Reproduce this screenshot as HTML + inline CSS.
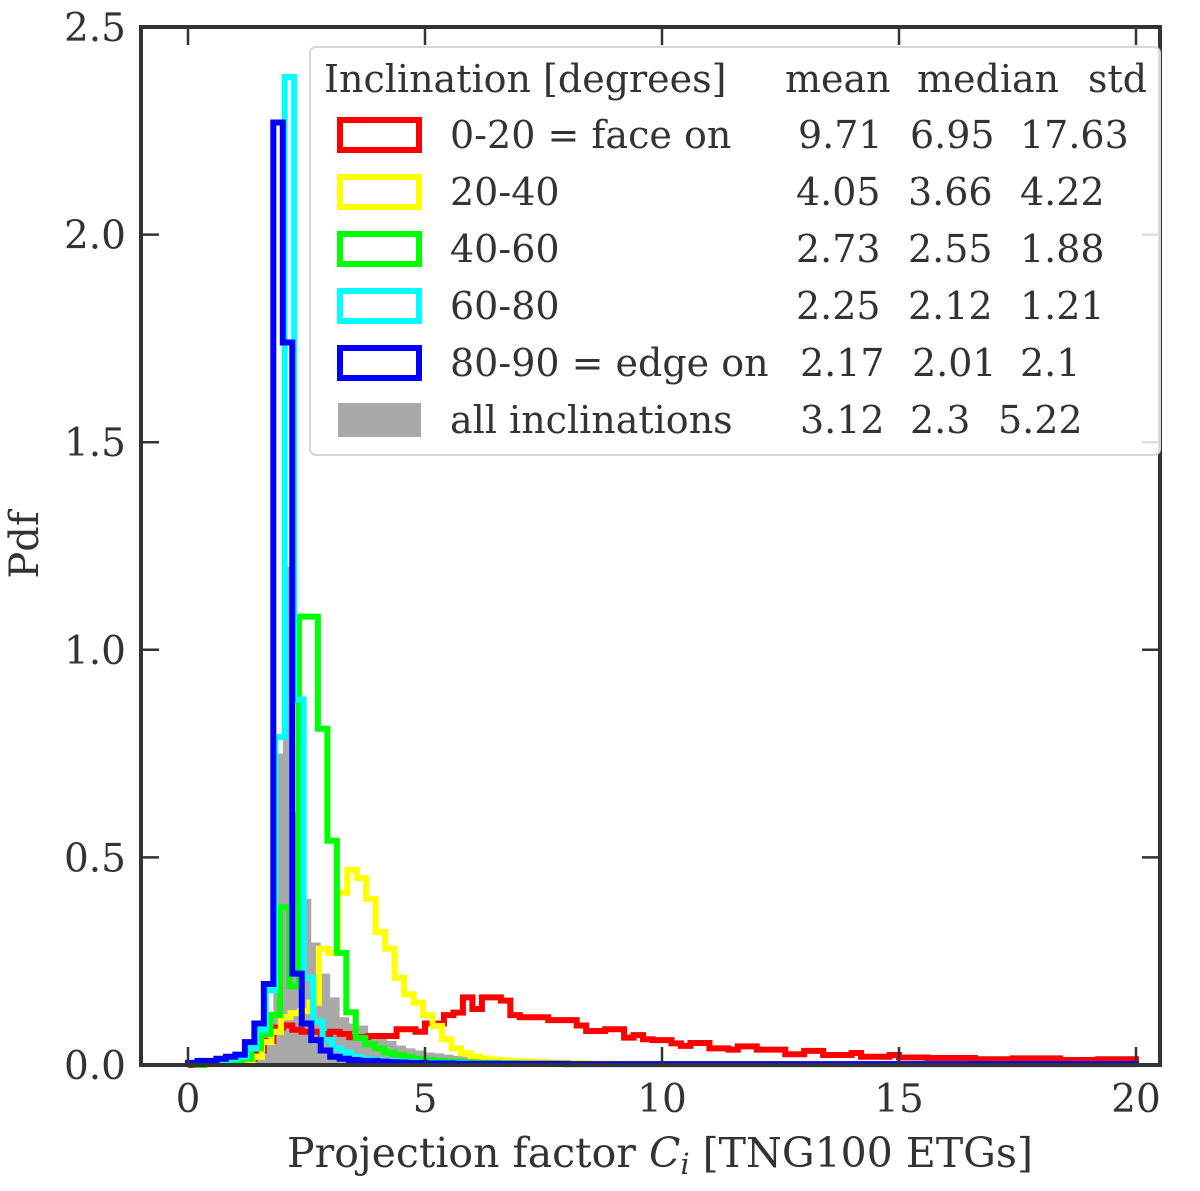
<!DOCTYPE html>
<html><head><meta charset="utf-8"><style>
html,body{margin:0;padding:0;background:#fff;}
svg text{font-family:"DejaVu Serif","Liberation Serif",serif;fill:#333;}
</style></head><body>
<svg id="chart" xmlns="http://www.w3.org/2000/svg" width="1200" height="1186" viewBox="0 0 1200 1186">
<rect width="1200" height="1186" fill="#fff"/>
<g id="marks"></g>
<g id="axes"></g>
<g id="legend"></g>
</svg>
<script>
const binWidth = 0.2;
const xTicks = [0,5,10,15,20];
const xTickLabels = ["0","5","10","15","20"];
const yTicks = [0,0.5,1,1.5,2,2.5];
const yTickLabels = ["0.0","0.5","1.0","1.5","2.0","2.5"];
const grayStart = 0;
const grayVals = [0,0,0,0,0,0.005,0.01,0.035,0.12,0.75,1.2,0.61,0.40,0.295,0.22,0.163,0.115,0.10,0.095,0.075,0.075,0.058,0.047,0.04,0.035,0.03,0.028,0.025,0.022,0.02,0.017,0.015,0.014,0.013,0.012,0.011,0.01,0.009,0.009,0.008,0.008,0.007,0.007,0.006,0.006,0.006,0.005,0.005,0.005,0.005,0.004];
const redStart = 0;
const redVals = [0,0.002,0.003,0.005,0.008,0.012,0.015,0.035,0.058,0.09,0.095,0.085,0.08,0.08,0.075,0.08,0.075,0.067,0.067,0.07,0.07,0.07,0.086,0.086,0.08,0.1,0.1,0.12,0.126,0.163,0.135,0.163,0.163,0.155,0.12,0.115,0.115,0.115,0.108,0.108,0.108,0.095,0.082,0.082,0.086,0.086,0.066,0.072,0.062,0.06,0.06,0.052,0.046,0.053,0.053,0.04,0.04,0.037,0.045,0.045,0.037,0.037,0.037,0.026,0.026,0.034,0.034,0.024,0.024,0.024,0.029,0.02,0.02,0.02,0.024,0.018,0.018,0.018,0.017,0.017,0.017,0.017,0.017,0.014,0.014,0.014,0.014,0.016,0.016,0.016,0.016,0.016,0.012,0.012,0.012,0.012,0.014,0.014,0.014,0.014];
const yellowStart = 0.16;
const yellowVals = [0,0.002,0.003,0.004,0.005,0.01,0.02,0.055,0.08,0.115,0.125,0.13,0.15,0.28,0.27,0.415,0.47,0.45,0.40,0.32,0.28,0.21,0.17,0.15,0.12,0.094,0.062,0.04,0.028,0.02,0.016,0.013,0.011,0.01,0.009,0.008,0.007,0.006,0.006,0.005,0.005,0.004,0.004,0.004,0.003,0.003,0.003,0.003,0.003,0.002];
const greenStart = 0.14;
const greenVals = [0,0.002,0.003,0.005,0.01,0.015,0.04,0.075,0.12,0.38,0.19,1.08,1.08,0.81,0.54,0.27,0.127,0.065,0.05,0.04,0.03,0.025,0.02,0.015,0.012,0.01,0.009,0.008,0.007,0.006,0.005,0.005,0.004,0.004,0.003,0.003,0.003,0.003,0.002,0.002];
const cyanStart = 0.04;
const cyanVals = [0.003,0.005,0.008,0.01,0.015,0.02,0.04,0.085,0.18,0.79,2.38,0.88,0.21,0.105,0.06,0.04,0.03,0.02,0.015,0.012,0.01,0.009,0.008,0.007,0.006,0.005,0.005,0.004,0.004,0.003,0.003,0.003,0.003,0.002,0.002];
const blueStart = 0;
const blueVals = [0.005,0.01,0.01,0.015,0.02,0.025,0.055,0.10,0.195,2.27,1.74,0.22,0.10,0.06,0.035,0.02,0.015,0.012,0.01,0.01,0.008,0.007,0.006,0.005,0.005,0.004,0.004,0.004,0.003,0.003,0.003,0.003,0.003,0.003,0.003,0.003,0.003,0.003,0.003,0.003,0.002,0.002,0.002,0.002,0.002,0.002,0.002,0.002,0.002,0.002,0.002,0.002,0.002,0.002,0.002,0.002,0.002,0.002,0.002,0.002,0.002,0.002,0.002,0.002,0.002,0.002,0.002,0.002,0.002,0.002,0.002,0.002,0.002,0.002,0.002,0.002,0.002,0.002,0.002,0.002,0.002,0.002,0.002,0.002,0.002,0.002,0.002,0.002,0.002,0.002,0.002,0.002,0.002,0.002,0.002,0.002,0.002,0.002,0.002,0.002];
const legendLabels = ["0-20 = face on","20-40","40-60","60-80","80-90 = edge on","all inclinations"];
const legendMean = ["9.71","4.05","2.73","2.25","2.17","3.12"];
const legendMedian = ["6.95","3.66","2.55","2.12","2.01","2.3"];
const legendStd = ["17.63","4.22","1.88","1.21","2.1","5.22"];

const NS = "http://www.w3.org/2000/svg";
const L = 141, R = 1160, T = 27, B = 1065;
const X0 = 188, XS = 47.4;
function xs(v){ return X0 + v*XS; }
function ys(v){ return B - v*(B-T)/2.5; }
function mk(tag, attrs, parent){
  const e = document.createElementNS(NS, tag);
  for (const k in attrs) e.setAttribute(k, attrs[k]);
  parent.appendChild(e); return e;
}
const marks = document.getElementById('marks');
function stepPath(start, vals){
  let d = "M" + xs(start).toFixed(2) + "," + ys(0).toFixed(2);
  vals.forEach((v,i)=>{
    d += " V" + ys(v).toFixed(2) + " H" + xs(start + (i+1)*binWidth).toFixed(2);
  });
  d += " V" + ys(0).toFixed(2);
  return d;
}
const gp = mk('path', {d: stepPath(grayStart, grayVals) + " Z", fill:"#a9a9a9", stroke:"none"}, marks);


const series = [
  {name:'face-on-histogram', color:'#ff0000', start:redStart, vals:redVals},
  {name:'inclination-20-40-histogram', color:'#ffff00', start:yellowStart, vals:yellowVals},
  {name:'inclination-40-60-histogram', color:'#00ff00', start:greenStart, vals:greenVals},
  {name:'inclination-60-80-histogram', color:'#00ffff', start:cyanStart, vals:cyanVals},
  {name:'edge-on-histogram', color:'#0000ff', start:blueStart, vals:blueVals}
];
series.forEach(s=>{
  const p = mk('path', {d: stepPath(s.start, s.vals), fill:"none", stroke:s.color, "stroke-width":6, "stroke-linejoin":"miter"}, marks);
  
  
});

const axes = document.getElementById('axes');
const frame = mk('rect', {x:L, y:T, width:R-L, height:B-T, fill:"none", stroke:"#333", "stroke-width":4}, axes);


xTicks.forEach((v,i)=>{
  const x = xs(v);
  mk('line', {x1:x, y1:B, x2:x, y2:B-18, stroke:"#333", "stroke-width":2.5}, axes);
  mk('line', {x1:x, y1:T, x2:x, y2:T+18, stroke:"#333", "stroke-width":2.5}, axes);
  const t = mk('text', {x:x, y:1112, "font-size":39, "text-anchor":"middle"}, axes);
  t.textContent = xTickLabels[i];
  
  
});
yTicks.forEach((v,i)=>{
  const y = ys(v);
  mk('line', {x1:L, y1:y, x2:L+18, y2:y, stroke:"#333", "stroke-width":2.5}, axes);
  mk('line', {x1:R, y1:y, x2:R-18, y2:y, stroke:"#333", "stroke-width":2.5}, axes);
  const t = mk('text', {x:126, y:y+14, "font-size":39, "text-anchor":"end"}, axes);
  t.textContent = yTickLabels[i];
  
  
});
</script>
<svg style="position:absolute;left:0;top:0" width="1200" height="1186" xmlns="http://www.w3.org/2000/svg">
<text x="0" y="0" font-size="40" text-anchor="middle" transform="translate(38,545) rotate(-90)">Pdf</text>
<text x="660" y="1167" font-size="41" text-anchor="middle">Projection factor <tspan font-style="italic">C</tspan><tspan font-style="italic" font-size="29" dy="7">i</tspan><tspan dy="-7"> [TNG100 ETGs]</tspan></text>
<g>
<rect x="310" y="47" width="850" height="408" rx="6" fill="#fff" fill-opacity="0.85" stroke="#d6d6d6" stroke-width="2"/>
<text x="324" y="92" font-size="38">Inclination [degrees]</text>
<text x="785" y="92" font-size="38">mean</text>
<text x="917" y="92" font-size="38">median</text>
<text x="1088" y="92" font-size="38">std</text>
</g>
<g id="legrows"></g>
</svg>
<script>
(function(){
  const g = document.getElementById('legrows');
  const cols = ['#ff0000','#ffff00','#00ff00','#00ffff','#0000ff','#a9a9a9'];
  const stdX = [1020,796,796,796,1020,998];
  const meanX = [798,796,796,796,800,800];
  const medX = [910,908,908,908,912,910];
  for (let i=0;i<6;i++){
    const cy = 135 + i*57;
    let sw;
    if (i<5){
      sw = mk('rect',{x:340,y:cy-15,width:79,height:30,fill:'none',stroke:cols[i],'stroke-width':6},g);
    } else {
      sw = mk('rect',{x:338,y:cy-17,width:83,height:34,fill:cols[i]},g);
    }
    
    
    const t1 = mk('text',{x:450,y:cy+13,'font-size':38},g);
    t1.textContent = legendLabels[i];
    
    
    const t2 = mk('text',{x:meanX[i],y:cy+13,'font-size':38},g);
    t2.textContent = legendMean[i];
    
    
    const t3 = mk('text',{x:medX[i],y:cy+13,'font-size':38},g);
    t3.textContent = legendMedian[i];
    
    
    const t4 = mk('text',{x:(i>=1&&i<=3)?1020:stdX[i],y:cy+13,'font-size':38},g);
    t4.textContent = legendStd[i];
    
    
  }
})();
</script>
</body></html>
